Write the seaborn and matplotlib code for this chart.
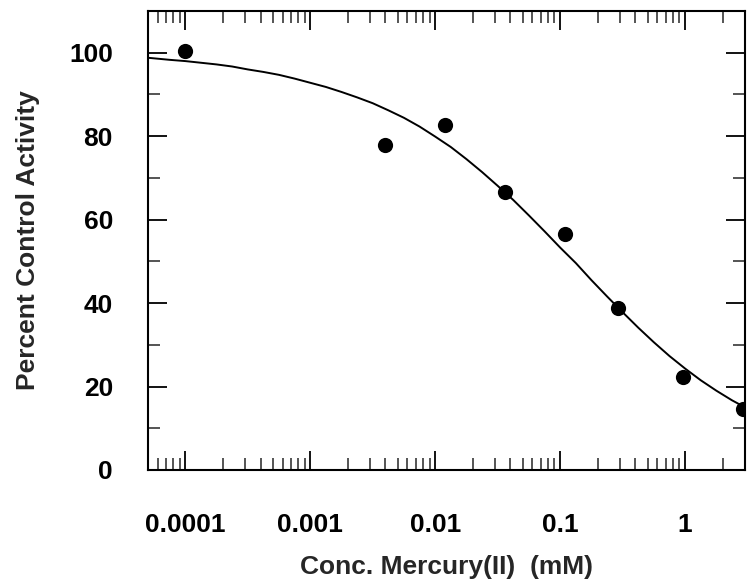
import matplotlib
matplotlib.use("Agg")
import matplotlib.pyplot as plt
import matplotlib.ticker as mticker
import numpy as np
import pandas as pd
import seaborn as sns

# Measured data points
conc_mM = [0.0001, 0.004, 0.012, 0.036, 0.11, 0.29, 0.97, 2.9]
activity = [100.4, 78.0, 82.7, 66.6, 56.5, 38.8, 22.4, 14.5]

# Fitted curve (log10 of concentration, % activity)
curve_log_conc = [-4.300, -4.125, -4.000, -3.875, -3.750, -3.625, -3.500, -3.375,
                  -3.250, -3.125, -3.000, -2.875, -2.750, -2.625, -2.500, -2.375,
                  -2.250, -2.125, -2.000, -1.875, -1.750, -1.625, -1.500, -1.375,
                  -1.250, -1.125, -1.000, -0.875, -0.750, -0.625, -0.500, -0.375,
                  -0.250, -0.125, 0.000, 0.125, 0.250, 0.375, 0.480]
curve_activity = [98.8, 98.3, 98.0, 97.6, 97.2, 96.7, 96.0, 95.4,
                  94.7, 93.8, 92.8, 91.8, 90.6, 89.3, 87.9, 86.2,
                  84.4, 82.3, 79.9, 77.4, 74.5, 71.4, 68.1, 64.7,
                  61.0, 57.2, 53.3, 49.6, 45.5, 41.6, 37.8, 34.1,
                  30.6, 27.3, 24.3, 21.5, 19.0, 16.7, 15.0]

x_ticks = [0.0001, 0.001, 0.01, 0.1, 1]
x_tick_labels = ["0.0001", "0.001", "0.01", "0.1", "1"]
y_ticks = [0, 20, 40, 60, 80, 100]

sns.set_style("ticks")
plt.rcParams['font.family'] = ['Liberation Sans', 'DejaVu Sans']
plt.rcParams['font.weight'] = 'bold'

fig = plt.figure(figsize=(7.47, 5.86), dpi=100)
ax = fig.add_axes([0.1977, 0.198, 0.7993, 0.7832])

pts = pd.DataFrame({"conc": conc_mM, "act": activity})
curve = pd.DataFrame({"conc": [10 ** v for v in curve_log_conc], "act": curve_activity})

sns.lineplot(data=curve, x="conc", y="act", ax=ax, color="black", linewidth=1.4,
             sort=True, estimator=None)
sns.scatterplot(data=pts, x="conc", y="act", ax=ax, color="black", s=120,
                edgecolor="black", linewidth=0, zorder=3, clip_on=True)

ax.set_xscale("log")
ax.set_xlim(5e-5, 3.0)
ax.set_ylim(0, 110)

ax.set_xticks(x_ticks)
ax.set_xticklabels(x_tick_labels)
ax.xaxis.set_minor_locator(mticker.LogLocator(base=10, subs=np.arange(2, 10), numticks=20))
ax.xaxis.set_minor_formatter(mticker.NullFormatter())
ax.set_yticks(y_ticks)
ax.yaxis.set_minor_locator(mticker.MultipleLocator(10))

for s in ax.spines.values():
    s.set_linewidth(1.5)
    s.set_color("black")
    s.set_visible(True)

ax.tick_params(which="major", direction="in", length=14, width=1.3,
               top=True, right=True, labelsize=19, colors="black")
ax.tick_params(which="minor", direction="in", length=8.5, width=1.1,
               top=True, right=True)
ax.tick_params(axis="x", which="major", pad=31)
ax.tick_params(axis="y", which="major", pad=25)

for lab in ax.get_xticklabels() + ax.get_yticklabels():
    lab.set_fontweight("bold")

ax.set_xlabel("Conc. Mercury(II)  (mM)", fontsize=19, fontweight="bold", labelpad=13)
ax.set_ylabel("Percent Control Activity", fontsize=19, fontweight="bold", labelpad=21)
ax.grid(False)

fig.savefig("out.png", dpi=100)
